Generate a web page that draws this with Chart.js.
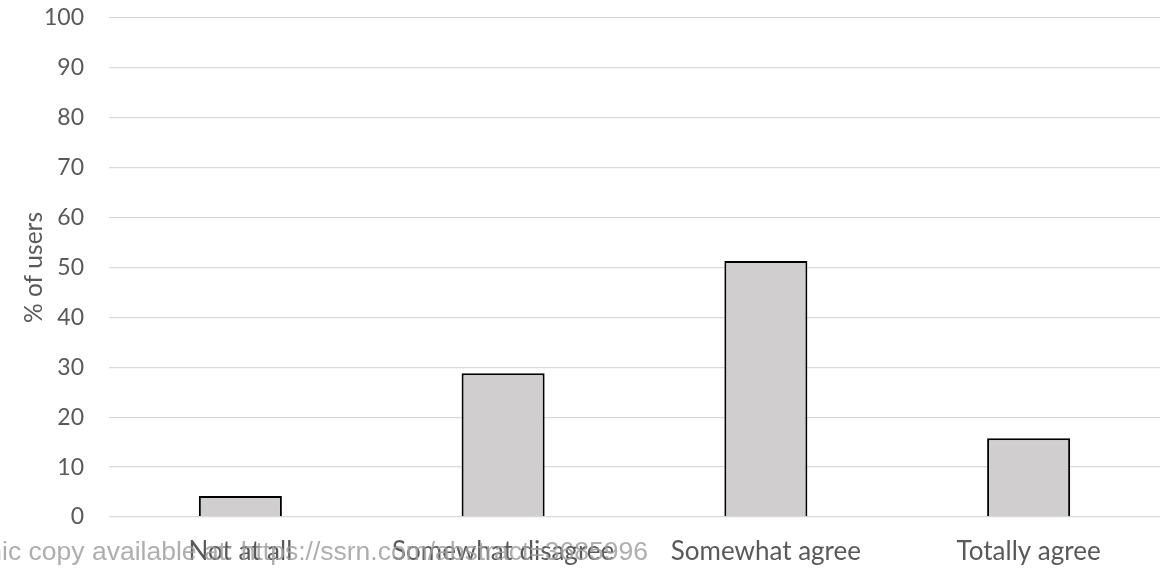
<!DOCTYPE html>
<html>
<head>
<meta charset="utf-8">
<script src="https://cdn.jsdelivr.net/npm/chart.js@4/dist/chart.umd.min.js"></script>
<style>
  html, body { margin: 0; padding: 0; background: #fff; }
  #wrap { width: 1166px; height: 569px; position: relative; }
</style>
</head>
<body>
<div id="wrap"><canvas id="c"></canvas></div>
<script>
const categories = ["Not at all", "Somewhat disagree", "Somewhat agree", "Totally agree"];
const usersPct = [4.2, 28.8, 51.3, 15.8];
const yTicks = [0, 10, 20, 30, 40, 50, 60, 70, 80, 90, 100];
const watermarkText = "Electronic copy available at: https://ssrn.com/abstract=3685996";

const FONT = "Lato, 'Open Sans', sans-serif";

const watermark = {
  id: 'watermark',
  afterDraw(chart) {
    const ctx = chart.ctx;
    ctx.save();
    ctx.font = "26.5px 'Liberation Sans', Arial, sans-serif";
    ctx.fillStyle = "rgba(160,160,160,0.85)";
    ctx.textAlign = "right";
    ctx.textBaseline = "alphabetic";
    ctx.fillText(watermarkText, 648, 560);
    ctx.restore();
  }
};

new Chart(document.getElementById('c'), {
  type: 'bar',
  data: {
    labels: categories,
    datasets: [{
      data: usersPct,
      backgroundColor: '#d0cece',
      borderColor: '#000000',
      borderWidth: 2,
      borderSkipped: 'start',
      categoryPercentage: 1.0,
      barPercentage: 0.316
    }]
  },
  options: {
    responsive: true,
    maintainAspectRatio: false,
    animation: false,
    events: [],
    layout: { padding: { top: 18, right: 6, left: 19, bottom: 0 } },
    plugins: {
      legend: { display: false },
      tooltip: { enabled: false }
    },
    scales: {
      x: {
        grid: { display: false, drawTicks: false },
        border: { display: false },
        ticks: { color: '#595959', font: { family: FONT, size: 26 }, padding: 19, maxRotation: 0, autoSkip: false },
        afterFit(s) { s.height = 52; s.paddingLeft = 0; s.paddingRight = 0; }
      },
      y: {
        min: 0, max: 100,
        afterBuildTicks(s) { s.ticks = yTicks.map(v => ({ value: v })); },
        grid: { color: '#d9d9d9', lineWidth: 1.3, drawTicks: false },
        border: { display: false },
        ticks: { color: '#595959', font: { family: FONT, size: 23 }, padding: 25 },
        title: { display: true, text: '% of users', color: '#595959', font: { family: FONT, size: 24.5 }, padding: 0 },
        afterFit(s) { s.width = 90; s.paddingTop = 0; s.paddingBottom = 0; }
      }
    }
  },
  plugins: [watermark]
});
</script>
</body>
</html>
